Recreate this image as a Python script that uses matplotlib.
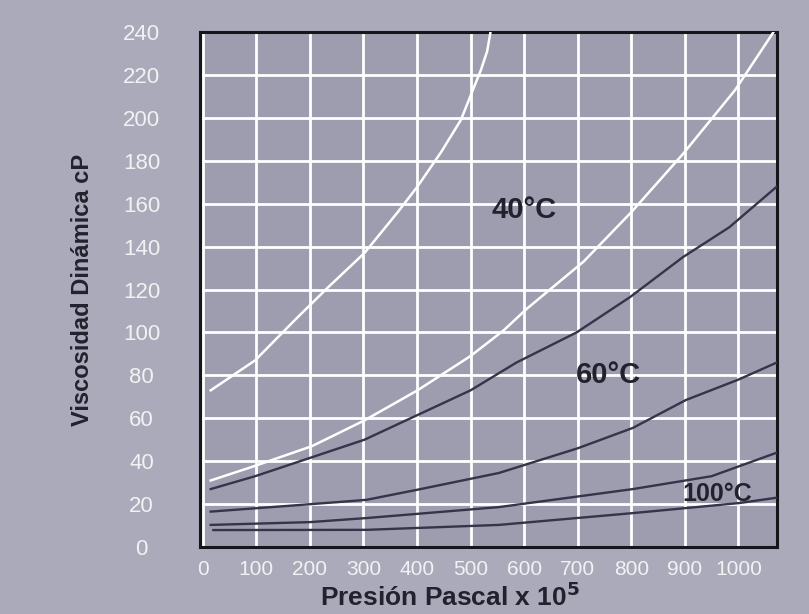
import numpy as np
import matplotlib.pyplot as plt

plt.rcParams['font.family'] = ['Liberation Sans', 'DejaVu Sans']

# valores (presion x 10^5 Pa, viscosidad cP)
c1_x = [15, 98, 173, 234, 302, 364, 401, 445, 482, 506, 519, 531, 538]
c1_y = [73, 87, 106, 121, 137, 156, 168, 184, 199, 214, 222, 231, 241]

c2_x = [15, 100, 204, 302, 401, 500, 562, 605, 711, 800, 896, 994, 1063, 1068]
c2_y = [31, 38, 47, 59, 73, 89, 101, 111, 133, 156, 183, 213, 239, 241]

c3_x = [15, 98, 206, 302, 401, 500, 586, 698, 798, 896, 983, 1072]
c3_y = [27, 33, 42, 50, 61.5, 73, 86, 100, 116.5, 135, 149, 168]

c4_x = [15, 150, 256, 306, 399, 553, 700, 803, 902, 1000, 1072]
c4_y = [16.5, 19, 21, 22, 26.6, 34.5, 46, 55.5, 68.5, 78, 86]

c5_x = [15, 200, 306, 553, 803, 950, 1072]
c5_y = [10.3, 11.6, 13.5, 18.6, 27, 33, 44]

c6_x = [20, 306, 553, 803, 1002, 1072]
c6_y = [7.9, 8, 10.3, 15.8, 20.5, 23]

x_ticks = list(range(0, 1001, 100))
y_ticks = list(range(0, 241, 20))

etiquetas = ["40°C", "60°C", "100°C"]
etiq_x = [599, 757, 961]
etiq_y = [157, 80, 24.7]
etiq_size = [21, 21, 18]

fondo = '#aaaabb'
fondo_ax = '#9d9daf'
oscuro = '#22222e'
linea_osc = '#34344a'

fig = plt.figure(figsize=(8.09, 6.14), dpi=100)
fig.patch.set_facecolor(fondo)
ax = fig.add_axes([0.2472, 0.1091, 0.7132, 0.8388])
ax.set_facecolor(fondo_ax)

ax.plot(c1_x, c1_y, color='white', lw=1.8, zorder=3)
ax.plot(c2_x, c2_y, color='white', lw=1.8, zorder=3)
ax.plot(c3_x, c3_y, color=linea_osc, lw=1.7, zorder=3)
ax.plot(c4_x, c4_y, color=linea_osc, lw=1.7, zorder=3)
ax.plot(c5_x, c5_y, color=linea_osc, lw=1.7, zorder=3)
ax.plot(c6_x, c6_y, color=linea_osc, lw=1.7, zorder=3)

for t, x, y, s in zip(etiquetas, etiq_x, etiq_y, etiq_size):
    ax.text(x, y, t, fontsize=s, fontweight='bold', color=oscuro,
            ha='center', va='center', zorder=4)

ax.set_xlim(-5, 1072)
ax.set_ylim(0, 240)
ax.set_xticks(x_ticks)
ax.set_yticks(y_ticks)
ax.grid(True, color='white', lw=2.0, zorder=1)
ax.set_axisbelow(True)
ax.tick_params(length=0, colors='#f2f2f2', labelsize=15)
ax.tick_params(axis='y', labelsize=16)
ax.tick_params(axis='x', pad=9)
ax.tick_params(axis='y', pad=42)
for lab in ax.get_yticklabels():
    lab.set_horizontalalignment('center')
for sp in ax.spines.values():
    sp.set_color('#15151c')
    sp.set_linewidth(2.2)

fig.text(450 / 809, 1 - 597 / 614, r"Presión Pascal x 10$^{\mathbf{5}}$", fontsize=19,
         fontweight='bold', color=oscuro, ha='center', va='center')
fig.text(83 / 809, 1 - 290 / 614, "Viscosidad Dinámica cP", fontsize=17,
         fontweight='bold', color=oscuro, ha='center', va='center', rotation=90)

fig.savefig("out.png", dpi=100, facecolor=fondo)
